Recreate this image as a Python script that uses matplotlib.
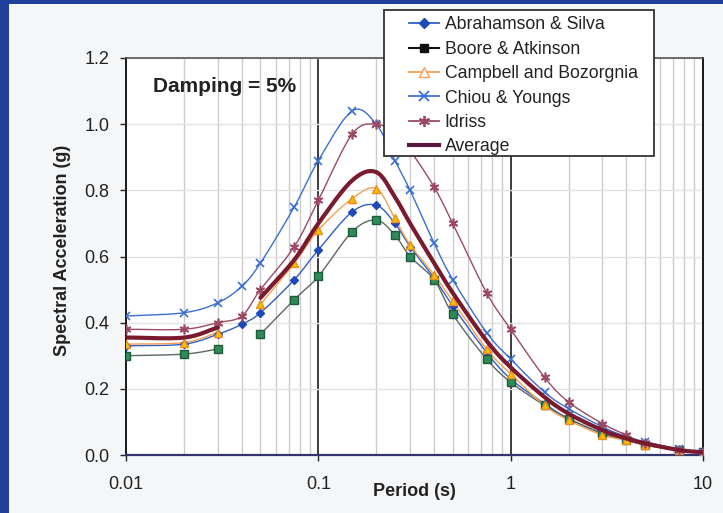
import numpy as np
import matplotlib
matplotlib.use("Agg")
import matplotlib.pyplot as plt
from matplotlib.lines import Line2D
from matplotlib.patches import Rectangle
from matplotlib.ticker import FixedLocator, NullFormatter, FixedFormatter

periods = [0.01, 0.02, 0.03, 0.04, 0.05, 0.075, 0.1, 0.15, 0.2, 0.25, 0.3, 0.4,
           0.5, 0.75, 1.0, 1.5, 2.0, 3.0, 4.0, 5.0, 7.5, 10.0]
nan = np.nan
abrahamson_silva = [0.33, 0.335, 0.365, 0.395, 0.43, 0.53, 0.62, 0.735, 0.755, 0.70, 0.63, 0.535,
                    0.45, 0.31, 0.23, 0.155, 0.11, 0.065, 0.045, 0.032, 0.015, 0.008]
boore_atkinson = [0.30, 0.305, 0.32, nan, 0.365, 0.47, 0.54, 0.675, 0.71, 0.665, 0.60, 0.53,
                  0.425, 0.29, 0.22, 0.15, 0.11, 0.065, 0.045, 0.03, 0.015, 0.008]
campbell_bozorgnia = [0.335, 0.34, 0.37, nan, 0.455, 0.58, 0.68, 0.775, 0.805, 0.715, 0.635, 0.545,
                      0.465, 0.32, 0.245, 0.15, 0.105, 0.06, 0.045, 0.03, 0.015, 0.008]
chiou_youngs = [0.42, 0.43, 0.46, 0.51, 0.58, 0.75, 0.89, 1.04, 1.0, 0.89, 0.80, 0.64,
                0.53, 0.37, 0.29, 0.19, 0.14, 0.085, 0.055, 0.04, 0.018, 0.01]
idriss = [0.38, 0.38, 0.40, 0.42, 0.50, 0.63, 0.77, 0.97, 1.0, 0.97, 0.92, 0.81,
          0.70, 0.49, 0.38, 0.235, 0.16, 0.095, 0.06, 0.035, 0.015, 0.008]
average = [0.355, 0.355, 0.385, nan, 0.475, 0.59, 0.70, 0.83, 0.855, 0.78, 0.70, 0.58,
           0.49, 0.345, 0.265, 0.175, 0.125, 0.075, 0.05, 0.035, 0.015, 0.008]

x_ticks = [0.01, 0.1, 1, 10]
x_tick_labels = ["0.01", "0.1", "1", "10"]
y_ticks = [0.0, 0.2, 0.4, 0.6, 0.8, 1.0, 1.2]
y_tick_labels = ["0.0", "0.2", "0.4", "0.6", "0.8", "1.0", "1.2"]

plt.rcParams['font.family'] = ['Liberation Sans', 'DejaVu Sans']


def smooth_segments(xs, ys, n=16):
    """Catmull-Rom rendering of the polyline in log-x space (Excel-style smoothed line)."""
    xs = np.asarray(xs, float)
    ys = np.asarray(ys, float)
    segs = []
    cur = []
    for xv, yv in zip(xs, ys):
        if np.isnan(yv):
            if cur:
                segs.append(cur)
            cur = []
        else:
            cur.append((np.log10(xv), yv))
    if cur:
        segs.append(cur)
    out = []
    for seg in segs:
        p = np.array(seg)
        if len(p) < 2:
            out.append((10 ** p[:, 0], p[:, 1]))
            continue
        ext = np.vstack([2 * p[0] - p[1], p, 2 * p[-1] - p[-2]])
        pts = []
        t = np.linspace(0, 1, n, endpoint=False)
        for i in range(1, len(ext) - 2):
            p0, p1, p2, p3 = ext[i - 1], ext[i], ext[i + 1], ext[i + 2]
            m1 = (p2 - p0) * 0.5
            m2 = (p3 - p1) * 0.5
            h00 = 2 * t**3 - 3 * t**2 + 1
            h10 = t**3 - 2 * t**2 + t
            h01 = -2 * t**3 + 3 * t**2
            h11 = t**3 - t**2
            c = (h00[:, None] * p1 + h10[:, None] * m1 + h01[:, None] * p2 + h11[:, None] * m2)
            pts.append(c)
        pts.append(p[-1][None, :])
        pts = np.vstack(pts)
        out.append((10 ** pts[:, 0], pts[:, 1]))
    return out


fig = plt.figure(figsize=(7.23, 5.13), dpi=100, facecolor="#f4f6f8")
# slide frame (photographed edges)
fig.patches.append(Rectangle((0, 0), 9 / 723, 1, transform=fig.transFigure,
                             facecolor="#1f3f9a", edgecolor="none", zorder=0))
fig.patches.append(Rectangle((0, 1 - 4 / 513), 1, 4 / 513, transform=fig.transFigure,
                             facecolor="#1f3f9a", edgecolor="none", zorder=0))

ax = fig.add_axes([126 / 723, 1 - 455 / 513, (703 - 126) / 723, (455 - 58) / 513])
ax.set_facecolor("white")
ax.set_xscale("log")
ax.set_xlim(0.01, 10)
ax.set_ylim(0, 1.2)

# grid
ax.xaxis.set_major_locator(FixedLocator(x_ticks))
ax.xaxis.set_major_formatter(FixedFormatter(x_tick_labels))
minor = [m * 10.0 ** e for e in (-2, -1, 0) for m in range(2, 10)]
ax.xaxis.set_minor_locator(FixedLocator(minor))
ax.xaxis.set_minor_formatter(NullFormatter())
ax.yaxis.set_major_locator(FixedLocator(y_ticks))
ax.yaxis.set_major_formatter(FixedFormatter(y_tick_labels))
ax.grid(which="minor", axis="x", color="#cccccc", linewidth=1.0, zorder=0)
ax.grid(which="major", axis="x", color="#1a1a1a", linewidth=1.2, zorder=0)
ax.grid(which="major", axis="y", color="#e2e2e2", linewidth=1.0, zorder=0)
ax.tick_params(axis="both", which="major", direction="out", length=4, width=1,
               labelsize=13, colors="#222222")
ax.tick_params(axis="y", which="major", pad=8)
ax.tick_params(axis="x", which="minor", length=0)
ax.tick_params(axis="x", which="major", pad=11)
for s in ["left", "right"]:
    ax.spines[s].set_color("#1a1a1a")
    ax.spines[s].set_linewidth(1.4)
ax.spines["top"].set_color("#555555")
ax.spines["top"].set_linewidth(1.2)
ax.spines["bottom"].set_color("#33336e")
ax.spines["bottom"].set_linewidth(1.6)

series = [
    (abrahamson_silva, dict(color="#2f5fc4", lw=1.0), dict(marker="D", ms=4.5, mfc="#1f48b8", mec="#1f48b8")),
    (boore_atkinson, dict(color="#5a6a60", lw=1.0), dict(marker="s", ms=5.5, mfc="#2e8b57", mec="#1f5a3a")),
    (campbell_bozorgnia, dict(color="#f4a050", lw=1.0), dict(marker="^", ms=6, mfc="#f2c200", mec="#f08a20")),
    (chiou_youngs, dict(color="#3a6fd0", lw=1.0), dict(marker="x", ms=6, mfc="none", mec="#3a6fd0", mew=1.2)),
    (idriss, dict(color="#9c4a64", lw=1.0), dict(marker=(6, 2, 0), ms=7, mfc="none", mec="#9c4a64", mew=1.2)),
]
for ys, lprops, mprops in series:
    for sx, sy in smooth_segments(periods, ys):
        ax.plot(sx, sy, zorder=3, **lprops)
    ax.plot(periods, ys, linestyle="none", zorder=4, **mprops)
for sx, sy in smooth_segments(periods, average):
    ax.plot(sx, sy, color="#7a1a2e", lw=3.0, zorder=5, solid_capstyle="round")

ax.text(0.0327, 1.115, "Damping = 5%", fontsize=15, fontweight="bold", color="#222222",
        ha="center", va="center", zorder=6)

ax.set_xlabel("Period (s)", fontsize=13, fontweight="bold", color="#222222")
ax.xaxis.set_label_coords(0.5, -(492 - 455) / 397, transform=ax.transAxes)
ax.xaxis.label.set_va("center")
ax.set_ylabel("Spectral Acceleration (g)", fontsize=13, fontweight="bold", color="#222222")
ax.yaxis.set_label_coords(-(126 - 63) / 577, (455 - 250) / 397, transform=ax.transAxes)
ax.yaxis.label.set_va("center")

# legend box (frame drawn separately so its padding matches the reference)
fig.patches.append(Rectangle((384 / 723, 1 - 156 / 513), (654 - 384) / 723, (156 - 10) / 513,
                             transform=fig.transFigure, facecolor="white",
                             edgecolor="#333333", linewidth=1.3, zorder=9))
handles = [
    Line2D([], [], color="#2f5fc4", lw=1.3, marker="D", ms=5, mfc="#1f48b8", mec="#1f48b8"),
    Line2D([], [], color="#111111", lw=1.5, marker="s", ms=6, mfc="#111111", mec="#111111"),
    Line2D([], [], color="#f4a050", lw=1.3, marker="^", ms=7, mfc="white", mec="#f4a050"),
    Line2D([], [], color="#3a6fd0", lw=1.3, marker="x", ms=7, mec="#3a6fd0", mew=1.3),
    Line2D([], [], color="#9c4a64", lw=1.3, marker=(6, 2, 0), ms=8, mec="#9c4a64", mew=1.3),
    Line2D([], [], color="#5a1a40", lw=3.0),
]
labels = ["Abrahamson & Silva", "Boore & Atkinson", "Campbell and Bozorgnia",
          "Chiou & Youngs", "Idriss", "Average"]
leg = fig.legend(handles, labels, loc="upper left",
                 bbox_to_anchor=(404 / 723, 1 - 11 / 513), bbox_transform=fig.transFigure,
                 fontsize=12.7, frameon=False, handlelength=1.7, handletextpad=0.3,
                 labelspacing=0.42, borderpad=0.3, borderaxespad=0)
for t in leg.get_texts():
    t.set_color("#222222")
leg.set_zorder(10)

fig.savefig("out.png", dpi=100, facecolor=fig.get_facecolor())
